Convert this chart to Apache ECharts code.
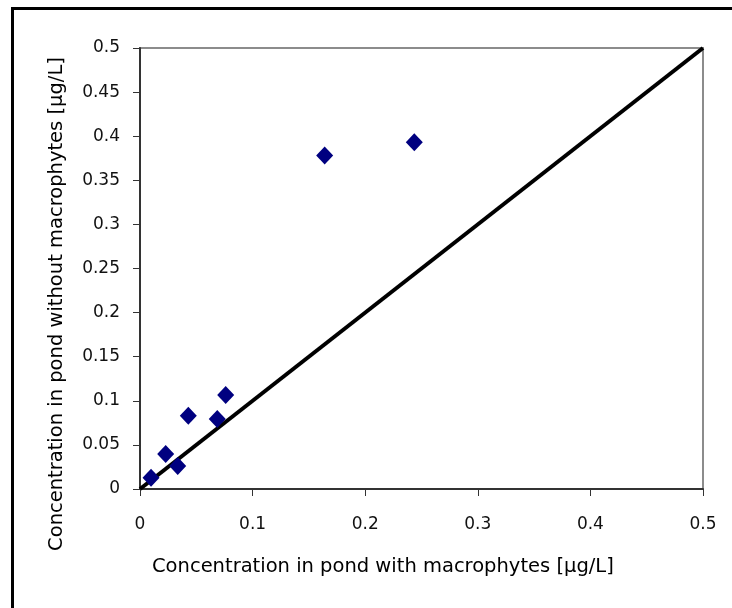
<!DOCTYPE html>
<html>
<head>
<meta charset="utf-8">
<script src="https://cdn.jsdelivr.net/npm/echarts@6/dist/echarts.min.js"></script>
<style>
html,body{margin:0;padding:0;background:#fff;}
#chart{width:732px;height:608px;}
</style>
</head>
<body>
<div id="chart"></div>
<script>
// Data
const withMacrophytes    = [0.0098, 0.0228, 0.0335, 0.0429, 0.0686, 0.0761, 0.164, 0.2436];
const withoutMacrophytes = [0.0128, 0.0397, 0.026, 0.0831, 0.0794, 0.1066, 0.378, 0.393];
const lineX = [0, 0.5];
const lineY = [0, 0.5];
const xTitle = 'Concentration in pond with macrophytes [µg/L]';
const yTitle = 'Concentration in pond without macrophytes [µg/L]';

const points = withMacrophytes.map((x, i) => [x, withoutMacrophytes[i]]);
const linePts = lineX.map((x, i) => [x, lineY[i]]);

const font = 'DejaVu Sans';
const titleFont = 'DejaVu Sans';
const fmt = v => {
  if (Math.abs(v) < 1e-9) return '0';
  return String(parseFloat(v.toFixed(2)));
};

const chart = echarts.init(document.getElementById('chart'));
chart.setOption({
  animation: false,
  backgroundColor: '#fff',
  grid: {
    left: 140, top: 48, right: 29, bottom: 119,
    show: true, borderColor: '#8c8c8c', borderWidth: 2, backgroundColor: '#fff'
  },
  xAxis: {
    type: 'value', min: 0, max: 0.5, interval: 0.1,
    axisLine: { show: true, onZero: false, lineStyle: { color: '#333', width: 2 } },
    axisTick: { show: true, length: 7, lineStyle: { color: '#333', width: 1 } },
    splitLine: { show: false },
    axisLabel: { formatter: fmt, color: '#111', fontFamily: font, fontSize: 17, margin: 27 }
  },
  yAxis: {
    type: 'value', min: 0, max: 0.5, interval: 0.05,
    axisLine: { show: true, onZero: false, lineStyle: { color: '#333', width: 2 } },
    axisTick: { show: true, length: 7, lineStyle: { color: '#333', width: 1 } },
    splitLine: { show: false },
    axisLabel: { formatter: fmt, color: '#111', fontFamily: font, fontSize: 17, margin: 20 }
  },
  series: [
    {
      type: 'line', data: linePts, symbol: 'none', z: 2,
      lineStyle: { color: '#000', width: 4 }
    },
    {
      type: 'scatter', data: points, symbol: 'diamond', symbolSize: [17, 18], z: 3,
      itemStyle: { color: '#000080', opacity: 1 }
    }
  ],
  graphic: [
    {
      type: 'rect', z: 100, silent: true,
      shape: { x: 12.5, y: 8.5, width: 800, height: 700 },
      style: { fill: 'none', stroke: '#000', lineWidth: 3 }
    },
    {
      type: 'text', z: 100, x: 152, y: 567,
      style: { text: xTitle, fontFamily: titleFont, fontSize: 19.5, fill: '#000', verticalAlign: 'middle' }
    },
    {
      type: 'text', z: 100, rotation: Math.PI / 2, x: 57, y: 304,
      style: { text: yTitle, fontFamily: titleFont, fontSize: 19.5, fill: '#000', align: 'center', verticalAlign: 'middle' }
    }
  ]
});
</script>
</body>
</html>
